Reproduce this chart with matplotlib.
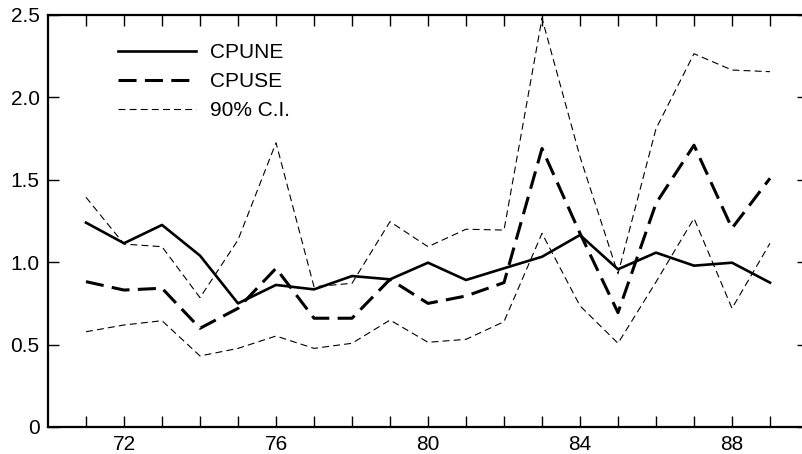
import matplotlib
matplotlib.use("Agg")
import matplotlib.pyplot as plt

# years 1971-1989 (two digit labels)
years = list(range(71, 90))

cpune = [1.24, 1.115, 1.226, 1.04, 0.75, 0.862, 0.835, 0.916, 0.896, 0.997,
         0.892, 0.963, 1.033, 1.165, 0.957, 1.058, 0.979, 0.997, 0.876]
cpuse = [0.882, 0.831, 0.842, 0.599, 0.72, 0.963, 0.66, 0.66, 0.896, 0.75,
         0.795, 0.876, 1.69, 1.175, 0.694, 1.357, 1.71, 1.206, 1.509]
ci_upper = [1.394, 1.11, 1.094, 0.785, 1.135, 1.725, 0.851, 0.872, 1.246, 1.094,
            1.2, 1.195, 2.48, 1.64, 0.93, 1.81, 2.265, 2.166, 2.156]
ci_lower = [0.578, 0.619, 0.645, 0.431, 0.477, 0.552, 0.477, 0.508, 0.649, 0.514,
            0.532, 0.639, 1.175, 0.735, 0.508, 0.88, 1.266, 0.72, 1.115]

xtick_labels = {72: "72", 76: "76", 80: "80", 84: "84", 88: "88"}
ytick_vals = [0, 0.5, 1.0, 1.5, 2.0, 2.5]
ytick_labels = ["0", "0.5", "1.0", "1.5", "2.0", "2.5"]

plt.rcParams['font.family'] = ['Liberation Sans', 'DejaVu Sans']
plt.rcParams['lines.scale_dashes'] = False

fig = plt.figure(figsize=(8.03, 4.54), dpi=100)
ax = fig.add_axes([48 / 803, 27 / 454, 760 / 803, 412 / 454])

ax.plot(years, cpune, color='black', lw=1.9, label='CPUNE')
ax.plot(years, cpuse, color='black', lw=2.2, dashes=(13, 6), label='CPUSE')
ax.plot(years, ci_upper, color='black', lw=0.8, dashes=(5, 3), label='90% C.I.')
ax.plot(years, ci_lower, color='black', lw=0.8, dashes=(5, 3))

ax.set_xlim(70, 90)
ax.set_ylim(0, 2.5)

ax.set_xticks(years)
ax.set_xticklabels([xtick_labels.get(y, "") for y in years])
ax.set_yticks(ytick_vals)
ax.set_yticklabels(ytick_labels)
ax.tick_params(direction='in', length=8, width=1, top=True, right=True,
               labelsize=15, pad=6)

for s in ax.spines.values():
    s.set_linewidth(1.6)

ax.legend(loc='upper left', bbox_to_anchor=(0.068, 0.978), frameon=False,
          fontsize=15, handlelength=3.7, handletextpad=0.7, labelspacing=0.48)

fig.savefig("out.png", dpi=100)
